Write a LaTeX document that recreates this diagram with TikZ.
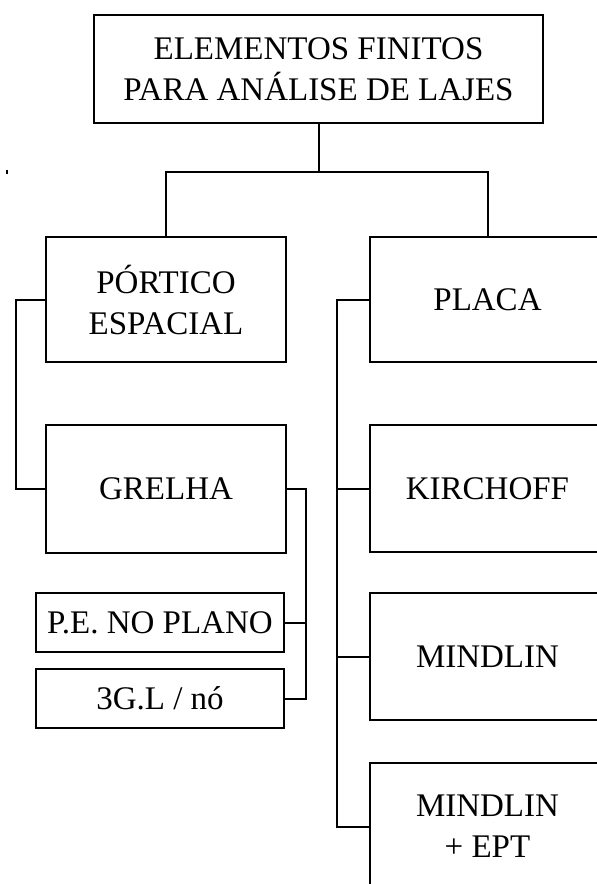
\documentclass[tikz,border=0pt]{standalone}
\usepackage{fontspec}
\setmainfont{Liberation Serif}
\begin{document}
\begin{tikzpicture}[x=1pt,y=-1pt,
  box/.style={draw, line width=2pt, align=center, inner sep=0pt,
    font=\fontsize{33}{41}\selectfont},
  link/.style={line width=2pt}]
\useasboundingbox (0,0) rectangle (597,884);
\clip (0,0) rectangle (597,884);

% boxes
\node[box, minimum width=449pt, minimum height=108pt] (top) at (318.5,69)
  {ELEMENTOS FINITOS\\PARA ANÁLISE DE LAJES};
\node[box, minimum width=240pt, minimum height=125pt] (portico) at (166,299.5)
  {PÓRTICO\\ESPACIAL};
\node[box, minimum width=235pt, minimum height=125pt] (placa) at (487.5,299.5)
  {PLACA};
\node[box, minimum width=240pt, minimum height=128pt] (grelha) at (166,489)
  {GRELHA};
\node[box, minimum width=235pt, minimum height=127pt] (kirchoff) at (487.5,488.5)
  {KIRCHOFF};
\node[box, minimum width=235pt, minimum height=127pt] (mindlin) at (487.5,656.5)
  {MINDLIN};
\node[box, minimum width=235pt, minimum height=127pt] (ept) at (487.5,826.5)
  {MINDLIN\\+ EPT};
\node[box, minimum width=248pt, minimum height=59pt] (pe) at (160,622.5)
  {P.E. NO PLANO};
\node[box, minimum width=248pt, minimum height=59pt] (gl) at (160,698.5)
  {3G.L / nó};

% connector rails
\coordinate (j) at (top.south |- 0,172);
\coordinate (leftrail) at (16,0);
\coordinate (rightrail) at (337,0);
\coordinate (grelharail) at (306,0);

% top split
\draw[link] (top.south) -- (j);
\draw[link] (portico.north) |- (j) -| (placa.north);

% pórtico to grelha
\draw[link] (portico.west) -- (portico.west -| leftrail) |- (grelha.west);

% placa family
\draw[link] (placa.west) -- (placa.west -| rightrail) |- (ept.west);
\draw[link] (kirchoff.west) -- (kirchoff.west -| rightrail);
\draw[link] (mindlin.west) -- (mindlin.west -| rightrail);

% grelha details
\draw[link] (grelha.east) -- (grelha.east -| grelharail) |- (gl.east);
\draw[link] (pe.east) -- (pe.east -| grelharail);

% small mark on the left margin
\fill (6,170) rectangle (8,174);
\end{tikzpicture}
\end{document}
